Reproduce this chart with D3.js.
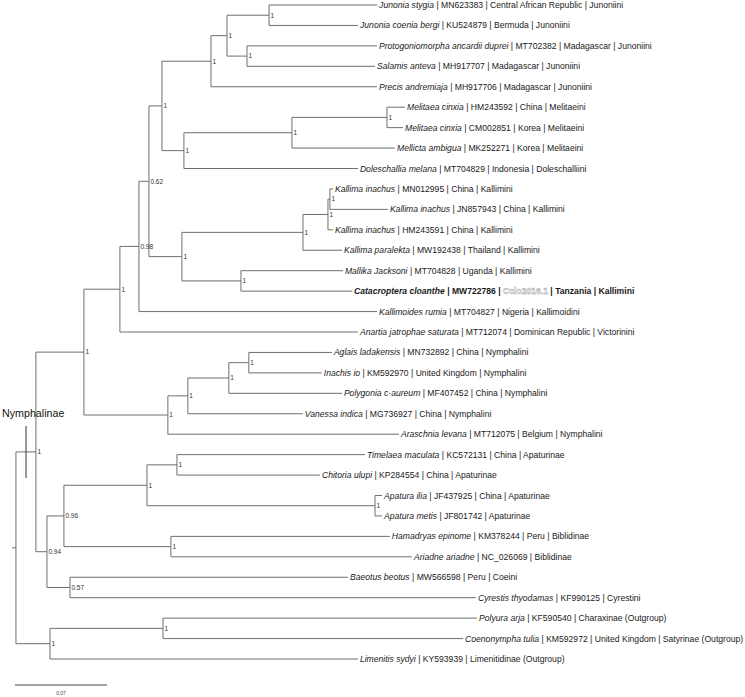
<!DOCTYPE html>
<html><head><meta charset="utf-8">
<script src="https://cdn.jsdelivr.net/npm/d3@7"></script>
<style>
html,body{margin:0;padding:0;background:#fff;}
svg{display:block;font-family:"Liberation Sans",Arial,Helvetica,sans-serif;}
</style>
</head><body>
<svg id="chart" width="745" height="697"></svg>
<script>
// ---- tree topology: node id, parent, branch length (subst./site), support ----
const nodeIds = ["root","R0","N3","N2","N1","N098","H","G","D","C","A","L1","L2","B","L3","L4","L5","F","E2","Ep","L6","L7","L8","L9","K","KG","KI2","KI1","L10","L11","L12","L13","MC","L14","L15","L16","L17","NY4","NY3","NY2","NY1","L18","L19","L20","L21","L22","N094","N096","AP","TC","L23","L24","AA","L25","L26","BB","L27","L28","N057","L29","L30","OG","PC","L31","L32","L33"];
const nodeParents = [null,"root","R0","N3","N2","N1","N098","H","G","D","C","A","A","C","B","B","D","G","F","E2","Ep","Ep","E2","F","H","K","KG","KI2","KI1","KI1","KI2","KG","K","MC","MC","N098","N1","N2","NY4","NY3","NY2","NY1","NY1","NY2","NY3","NY4","N3","N094","N096","AP","TC","TC","AP","AA","AA","N096","BB","BB","N094","N057","N057","R0","OG","PC","PC","OG"];
const branchLengths = [0,0.0030,0.0152,0.0365,0.0274,0.0145,0.0076,0.0099,0.0373,0.0122,0.0320,0.0822,0.0677,0.0152,0.0989,0.0974,0.1263,0.0167,0.0822,0.0723,0.0137,0.0122,0.0784,0.1324,0.0251,0.0921,0.0190,0.0015,0.0023,0.0441,0.0038,0.0297,0.0449,0.0776,0.0845,0.1811,0.1811,0.0639,0.0152,0.0312,0.0152,0.0632,0.0555,0.0860,0.0875,0.1758,0.0084,0.0129,0.0632,0.0228,0.1430,0.1088,0.1735,0.0053,0.0053,0.0814,0.1666,0.1834,0.0175,0.2115,0.3089,0.0259,0.0860,0.2389,0.2283,0.2343];
const supports = [null,null,"1","1","1","0.98","0.62","1","1","1","1",null,null,"1",null,null,null,"1","1","1",null,null,null,null,"1","1","1","1",null,null,null,null,"1",null,null,null,null,"1","1","1","1",null,null,null,null,null,"0.94","0.96","1","1",null,null,"1",null,null,"1",null,null,"0.57",null,null,"1","1",null,null,null];

// ---- leaf labels ----
const leafIds = ["L1","L2","L3","L4","L5","L6","L7","L8","L9","L10","L11","L12","L13","L14","L15","L16","L17","L18","L19","L20","L21","L22","L23","L24","L25","L26","L27","L28","L29","L30","L31","L32","L33"];
const leafSpecies = ["Junonia stygia","Junonia coenia bergi","Protogoniomorpha ancardii duprei","Salamis anteva","Precis andremiaja","Melitaea cinxia","Melitaea cinxia","Mellicta ambigua","Doleschallia melana","Kallima inachus","Kallima inachus","Kallima inachus","Kallima paralekta","Mallika Jacksoni","Catacroptera cloanthe","Kallimoides rumia","Anartia jatrophae saturata","Aglais ladakensis","Inachis io","Polygonia c-aureum","Vanessa indica","Araschnia levana","Timelaea maculata","Chitoria ulupi","Apatura ilia","Apatura metis","Hamadryas epinome","Ariadne ariadne","Baeotus beotus","Cyrestis thyodamas","Polyura arja","Coenonympha tulia","Limenitis sydyi"];
const leafInfo = [" | MN623383 | Central African Republic | Junoniini"," | KU524879 | Bermuda | Junoniini"," | MT702382 | Madagascar | Junoniini"," | MH917707 | Madagascar | Junoniini"," | MH917706 | Madagascar | Junoniini"," | HM243592 | China | Melitaeini"," | CM002851 | Korea | Melitaeini"," | MK252271 | Korea | Melitaeini"," | MT704829 | Indonesia | Doleschalliini"," | MN012995 | China | Kallimini"," | JN857943 | China | Kallimini"," | HM243591 | China | Kallimini"," | MW192438 | Thailand | Kallimini"," | MT704828 | Uganda | Kallimini"," | MW722786 | "," | MT704827 | Nigeria | Kallimoidini"," | MT712074 | Dominican Republic | Victorinini"," | MN732892 | China | Nymphalini"," | KM592970 | United Kingdom | Nymphalini"," | MF407452 | China | Nymphalini"," | MG736927 | China | Nymphalini"," | MT712075 | Belgium | Nymphalini"," | KC572131 | China | Apaturinae"," | KP284554 | China | Apaturinae"," | JF437925 | China | Apaturinae"," | JF801742 | Apaturinae"," | KM378244 | Peru | Biblidinae"," | NC_026069 | Biblidinae"," | MW566598 | Peru | Coeini"," | KF990125 | Cyrestini"," | KF590540 | Charaxinae (Outgroup)"," | KM592972 | United Kingdom | Satyrinae (Outgroup)"," | KY593939 | Limenitidinae (Outgroup)"];
const highlightLeaf = "L15";
const highlightIsolate = "Cclo2016.1";
const highlightTail = " | Tanzania | Kallimini";
const cladeLabel = "Nymphalinae";
const scaleBarValue = 0.07;

// ---- build hierarchy ----
const table = nodeIds.map((id,i)=>({id, parent:nodeParents[i], len:branchLengths[i], sup:supports[i]}));
const root = d3.stratify().id(d=>d.id).parentId(d=>d.parent)(table);
root.eachBefore(n=>{ n.dist = n.parent ? n.parent.dist + n.data.len : 0; });

const svg = d3.select("#chart");
const x = d3.scaleLinear().domain([0, 0.07]).range([12, 104]);
const y = d3.scaleLinear().domain([0, leafIds.length-1]).range([5, 659]);

let li = 0;
root.eachBefore(n=>{ if(!n.children){ n.yi = li++; } });
root.eachAfter(n=>{
  if(n.children){ n.py = (n.children[0].py + n.children[n.children.length-1].py)/2; }
  else n.py = y(n.yi);
  n.px = x(n.dist);
});

const g = svg.append("g");
const lineCol = "#6f6f6f";
// root stub
g.append("line").attr("x1", x(0)).attr("x2", root.children[0].px)
  .attr("y1", root.children[0].py).attr("y2", root.children[0].py)
  .attr("stroke", lineCol).attr("stroke-width",1);
root.descendants().forEach(n=>{
  if(n.children && n.parent){
    g.append("line").attr("x1", n.px).attr("x2", n.px)
      .attr("y1", n.children[0].py).attr("y2", n.children[n.children.length-1].py)
      .attr("stroke", lineCol).attr("stroke-width",1);
  }
  if(n.parent && n.parent.parent){
    g.append("line").attr("x1", n.parent.px).attr("x2", n.px)
      .attr("y1", n.py).attr("y2", n.py)
      .attr("stroke", lineCol).attr("stroke-width",1);
  }
});

// support values
root.descendants().forEach(n=>{
  if(n.data.sup){
    g.append("text").attr("x", n.px+1.5).attr("y", n.py).attr("dy","0.36em")
      .attr("font-size","6.5px").attr("fill","#333").text(n.data.sup);
  }
});

// leaf labels
root.leaves().forEach(n=>{
  const i = leafIds.indexOf(n.id);
  const t = g.append("text").attr("x", n.px+2).attr("y", n.py).attr("dy","0.35em")
    .attr("font-size","8.6px").attr("fill","#1a1a1a");
  if(n.id === highlightLeaf){
    t.attr("font-weight","bold");
    t.append("tspan").attr("font-style","italic").text(leafSpecies[i]);
    t.append("tspan").text(leafInfo[i]);
    t.append("tspan").attr("fill","#fff").attr("stroke","#9a9a9a").attr("stroke-width",0.45).text(highlightIsolate);
    t.append("tspan").text(highlightTail);
  } else {
    t.append("tspan").attr("font-style","italic").text(leafSpecies[i]);
    t.append("tspan").text(leafInfo[i]);
  }
});

// clade label and bracket
svg.append("text").attr("x",2).attr("y",413).attr("dy","0.35em")
  .attr("font-size","10.7px").attr("fill","#111").text(cladeLabel);
svg.append("line").attr("x1",26).attr("x2",26).attr("y1",426).attr("y2",478)
  .attr("stroke","#333").attr("stroke-width",1);

// scale bar
const sbX = 15, sbW = x(scaleBarValue) - x(0);
svg.append("line").attr("x1",sbX).attr("x2",sbX+sbW).attr("y1",685).attr("y2",685)
  .attr("stroke","#444").attr("stroke-width",1);
svg.append("text").attr("x",sbX+sbW/2).attr("y",693).attr("dy","0.35em").attr("text-anchor","middle")
  .attr("font-size","5px").attr("fill","#444").text(String(scaleBarValue));
</script>
</body></html>
